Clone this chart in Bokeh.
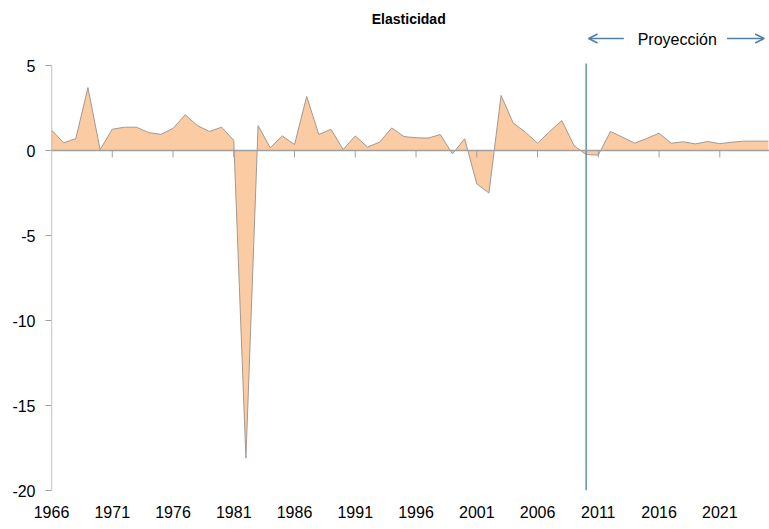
from bokeh.plotting import figure
from bokeh.models import Range1d, FixedTicker, Span, Label, Arrow, OpenHead, ColumnDataSource
from bokeh.embed import file_html
from bokeh.resources import INLINE

# ---- data ----
years = list(range(1966, 2026))
elasticidad = [
    1.20, 0.45, 0.70, 3.70, 0.05, 1.25, 1.37, 1.37, 1.05, 0.95,
    1.30, 2.10, 1.47, 1.12, 1.37, 0.60, -18.10, 1.47, 0.16, 0.86,
    0.35, 3.18, 0.94, 1.25, 0.06, 0.86, 0.20, 0.49, 1.33, 0.82,
    0.75, 0.73, 0.94, -0.20, 0.69, -1.96, -2.50, 3.24, 1.61, 1.08,
    0.43, 1.12, 1.76, 0.29, -0.24, -0.27, 1.12, 0.78, 0.43, 0.71,
    1.02, 0.43, 0.51, 0.39, 0.53, 0.40, 0.49, 0.55, 0.55, 0.55,
]
label_years = [1966, 1971, 1976, 1981, 1986, 1991, 1996, 2001, 2006, 2011, 2016, 2021]
mark_years = [1971, 1976, 1981, 1986, 1991, 1996, 2001, 2006, 2011, 2016, 2021]
y_ticks = [-20, -15, -10, -5, 0, 5]
proj_start = 2010
title_text = "Elasticidad"
proj_text = "Proyección"

FONT = "Liberation Sans"
FILL = "#fbcba3"
EDGE = "#a39890"
AXIS = "#a0a0a0"
BLUE = "#4f7fa6"

src = ColumnDataSource(dict(year=years, val=elasticidad))

# frame extends to the top of the canvas so the header texts live inside it
p = figure(width=769, height=529, output_backend="svg", toolbar_location=None,
           x_range=Range1d(1966, 2025.09), y_range=Range1d(-20, 8.824),
           min_border_left=51, min_border_right=0, min_border_top=0,
           min_border_bottom=39, title=None)
p.outline_line_color = None
p.grid.visible = False

p.varea(x="year", y1=0, y2="val", source=src, fill_color=FILL)
p.line(x="year", y="val", source=src, line_color=EDGE, line_width=1)

# zero axis line with tick marks
p.add_layout(Span(location=0, dimension="width", line_color=AXIS, line_width=1.6))
tick_len = 0.41
p.segment(x0=mark_years, y0=[0] * len(mark_years), x1=mark_years,
          y1=[-tick_len] * len(mark_years), line_color=AXIS, line_width=1)

# value axis line (only over the tick span)
p.segment(x0=[years[0]], y0=[y_ticks[0]], x1=[years[0]], y1=[y_ticks[-1]],
          line_color=AXIS, line_width=1.3)

# projection marker
p.segment(x0=[proj_start], y0=[y_ticks[0]], x1=[proj_start], y1=[y_ticks[-1] + 0.12],
          line_color=BLUE, line_width=1.3)

# x axis labels only
xa = p.xaxis[0]
xa.ticker = FixedTicker(ticks=label_years)
xa.axis_line_color = None
xa.major_tick_line_color = None
xa.minor_tick_line_color = None
xa.major_tick_out = 0
xa.major_tick_in = 0
xa.major_label_standoff = 15
xa.major_label_text_font = FONT
xa.major_label_text_font_size = "16px"
xa.major_label_text_color = "black"

ya = p.yaxis[0]
ya.ticker = FixedTicker(ticks=y_ticks)
ya.axis_line_color = None
ya.major_tick_line_color = AXIS
ya.major_tick_out = 6
ya.major_tick_in = 0
ya.minor_tick_line_color = None
ya.major_label_standoff = 10
ya.major_label_text_font = FONT
ya.major_label_text_font_size = "16px"
ya.major_label_text_color = "black"
ya.major_label_overrides = {t: str(t) for t in y_ticks}

# title
p.add_layout(Label(x=1995.4, y=7.76, text=title_text, text_font=FONT,
                   text_font_size="14px", text_font_style="bold",
                   text_align="center", text_baseline="middle", text_color="black"))

# projection annotation
p.add_layout(Label(x=2017.5, y=6.53, text=proj_text, text_font=FONT,
                   text_font_size="16px", text_align="center",
                   text_baseline="middle", text_color="black"))
p.add_layout(Arrow(x_start=2013.1, y_start=6.59, x_end=2010.2, y_end=6.59,
                   line_color=BLUE, line_width=1.5,
                   end=OpenHead(size=9, line_color=BLUE, line_width=1.5)))
p.add_layout(Arrow(x_start=2021.6, y_start=6.59, x_end=2024.65, y_end=6.59,
                   line_color=BLUE, line_width=1.5,
                   end=OpenHead(size=9, line_color=BLUE, line_width=1.5)))

open("out.html", "w").write(file_html(p, INLINE))
